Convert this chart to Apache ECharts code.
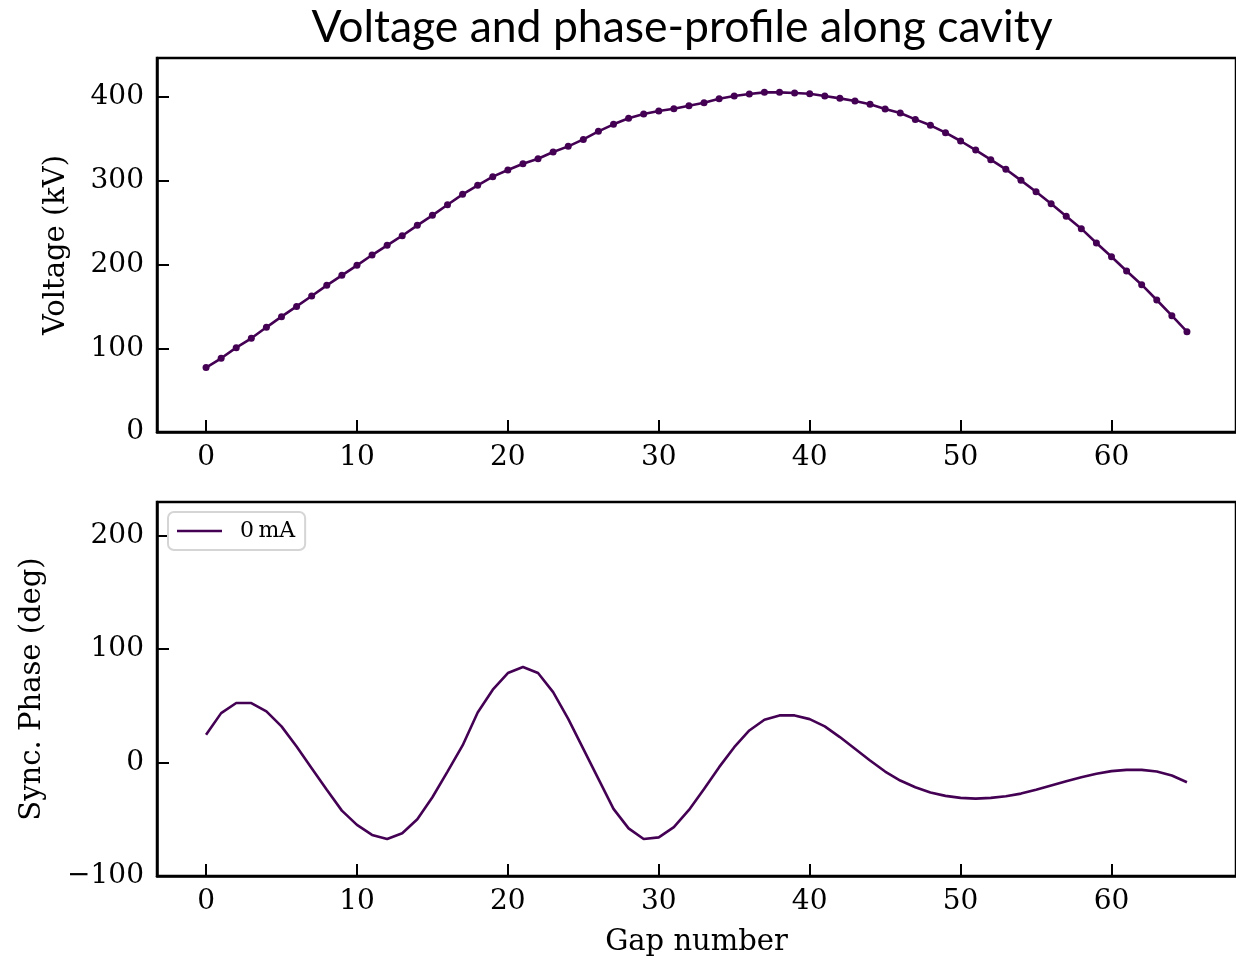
<!DOCTYPE html>
<html>
<head>
<meta charset="utf-8">
<script src="https://cdn.jsdelivr.net/npm/echarts@6/dist/echarts.min.js"></script>
<style>html,body{margin:0;padding:0;background:#fff;}#c{width:1236px;height:961px;}</style>
</head>
<body>
<div id="c"></div>
<script>
const gaps = Array.from({length: 66}, (_, i) => i);
const voltage = [77, 88, 100.7, 111.9, 125, 137.7, 150, 162.4, 175.1, 187.1,
  199, 211.3, 222.9, 234.4, 246.8, 258.7, 271.4, 283.8, 294.6, 304.9,
  312.8, 320.4, 326.3, 334.3, 341.1, 349.4, 359, 367.4, 374.6, 379.7,
  383.3, 386, 389.6, 393.2, 398, 401.2, 403.6, 405.6, 405.6, 404.8,
  404, 401.2, 398.4, 395.2, 391.3, 385.7, 380.9, 373.3, 366.2, 357.4,
  347.5, 336.7, 325.2, 313.7, 300.5, 286.9, 272.6, 257.5, 242.8, 225.7,
  209.3, 192.2, 175.9, 157.6, 138.9, 119.8];
const phase = [24.4, 43.5, 52.4, 52.4, 45, 31.8, 14.1, -5, -24.1, -42.4,
  -55, -63.8, -67.4, -62.4, -50, -30.6, -8, 15, 44, 64.1,
  78.8, 84.1, 78.8, 62, 38.5, 12, -14.4, -40.9, -58, -67.4,
  -66, -57, -41.8, -23.3, -4.1, 13.5, 28.2, 37.7, 41.5, 41.5,
  38.2, 31.8, 22.4, 12.1, 1.8, -8, -15.9, -21.8, -26.5, -29.4,
  -31.2, -31.8, -31.2, -29.7, -27.4, -24.1, -20.3, -16.5, -13, -10,
  -7.6, -6.5, -6.5, -8, -11.5, -17.4];
const xTicks = [0, 10, 20, 30, 40, 50, 60];
const vTicks = [0, 100, 200, 300, 400];
const pTicks = [-100, 0, 100, 200];
const seriesName = '0\u2009mA';

const color = '#440154';
const serif = 'DejaVu Serif';

function xAxis(gridIndex, name) {
  return {
    type: 'value', gridIndex: gridIndex, min: -3.25, max: 68.25,
    name: name || '', nameLocation: 'middle', nameGap: 52,
    nameTextStyle: {fontFamily: serif, fontSize: 29, color: '#000'},
    axisLine: {show: true, onZero: false, lineStyle: {color: '#000', width: 2.5}},
    axisTick: {show: true, inside: true, length: 12, lineStyle: {color: '#000', width: 2}, customValues: xTicks},
    axisLabel: {fontFamily: serif, fontSize: 28, color: '#000', margin: 12, customValues: xTicks},
    splitLine: {show: false}
  };
}
function yAxis(gridIndex, min, max, ticks, name, gap) {
  return {
    type: 'value', gridIndex: gridIndex, min: min, max: max,
    name: name, nameLocation: 'middle', nameGap: gap, nameRotate: 90,
    nameTextStyle: {fontFamily: serif, fontSize: 29, color: '#000'},
    axisLine: {show: true, onZero: false, lineStyle: {color: '#000', width: 2.5}},
    axisTick: {show: true, inside: true, length: 12, lineStyle: {color: '#000', width: 2}, customValues: ticks},
    axisLabel: {fontFamily: serif, fontSize: 28, color: '#000', margin: 13, customValues: ticks,
      formatter: v => String(v).replace('-', '\u2212')},
    splitLine: {show: false}
  };
}

const chart = echarts.init(document.getElementById('c'), null, {renderer: 'canvas'});
chart.setOption({
  backgroundColor: '#fff',
  animation: false,
  title: {
    text: 'Voltage and phase-profile along cavity', left: 677, top: 0, textAlign: 'center',
    textStyle: {fontFamily: 'Lato', fontSize: 44.5, fontWeight: 'normal', color: '#000'}
  },
  grid: [
    {left: 157, top: 58, width: 1080, height: 374, show: true, borderColor: '#000', borderWidth: 2.5, backgroundColor: 'transparent'},
    {left: 157, top: 502, width: 1080, height: 374, show: true, borderColor: '#000', borderWidth: 2.5, backgroundColor: 'transparent'}
  ],
  legend: {
    data: [{name: seriesName, icon: 'rect'}], left: 168, top: 512, orient: 'vertical',
    itemWidth: 45, itemHeight: 2.5, itemGap: 10,
    padding: [8, 10, 8, 9],
    borderColor: '#d5d5d5', borderWidth: 2, borderRadius: 6, backgroundColor: '#fff',
    textStyle: {fontFamily: serif, fontSize: 22, color: '#000', padding: [0, 0, 0, 13]}
  },
  xAxis: [xAxis(0), xAxis(1, 'Gap number')],
  yAxis: [
    yAxis(0, 0, 446.6, vTicks, 'Voltage (kV)', 86),
    yAxis(1, -100, 229.5, pTicks, 'Sync. Phase (deg)', 110)
  ],
  series: [
    {
      name: 'voltage', type: 'line', xAxisIndex: 0, yAxisIndex: 0,
      data: gaps.map((g, i) => [g, voltage[i]]),
      symbol: 'circle', symbolSize: 7, showSymbol: true,
      lineStyle: {color: color, width: 2.6}, itemStyle: {color: color}
    },
    {
      name: seriesName, type: 'line', xAxisIndex: 1, yAxisIndex: 1,
      data: gaps.map((g, i) => [g, phase[i]]),
      symbol: 'none',
      lineStyle: {color: color, width: 2.6}, itemStyle: {color: color}
    }
  ]
});
</script>
</body>
</html>
